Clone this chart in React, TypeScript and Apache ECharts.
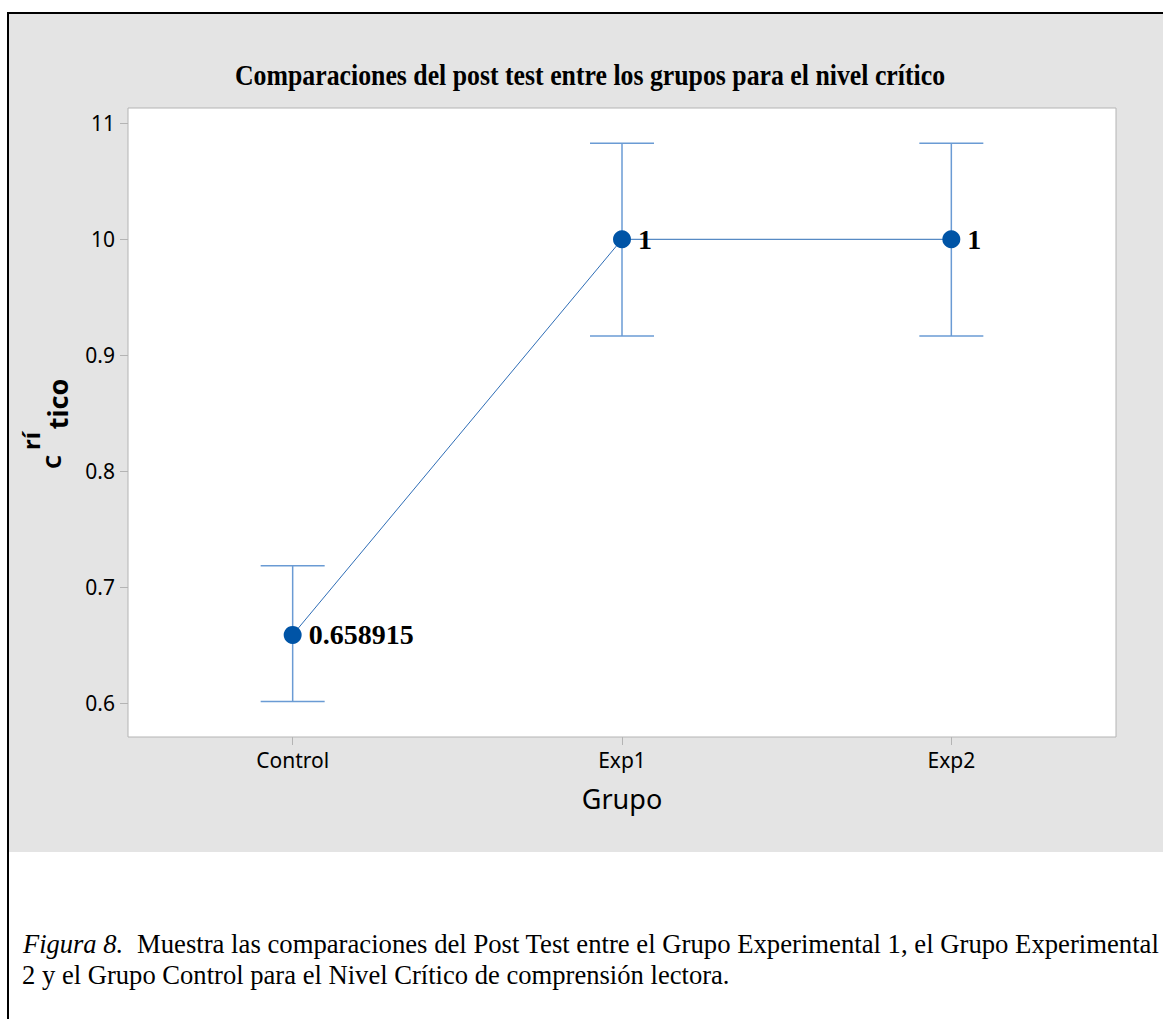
import React, { useEffect, useRef } from "react";
import * as echarts from "echarts";

const categories = ["Control", "Exp1", "Exp2"];
const means = [0.658915, 1, 1];
const lowerCI = [0.6015, 0.9166, 0.9166];
const upperCI = [0.7185, 1.0828, 1.0828];
const pointLabels = ["0.658915", "1", "1"];
const yTickValues = [0.6, 0.7, 0.8, 0.9, 1.0, 1.1];
const yTickLabels = ["0.6", "0.7", "0.8", "0.9", "10", "11"];
const titleText = "Comparaciones del post test entre los grupos para el nivel crítico";
const xAxisName = "Grupo";
const captionItalic = "Figura 8.";
const captionLine1 = "Muestra las comparaciones del Post Test entre el Grupo Experimental 1, el Grupo Experimental";
const captionLine2 = "2 y el Grupo Control para el Nivel Crítico de comprensión lectora.";

const W = 1163;
const H = 1019;

export default function App() {
  const ref = useRef<HTMLDivElement>(null);
  useEffect(() => {
    if (!ref.current) return;
    const chart = echarts.init(ref.current, null, { renderer: "svg" });
    const errData = categories.map((_, i) => [i, lowerCI[i], upperCI[i]]);
    const option: any = {
      animation: false,
      backgroundColor: "#ffffff",
      graphic: [
        { type: "rect", z: -10, shape: { x: 9, y: 14, width: W - 9, height: 852 - 14 }, style: { fill: "#e4e4e4" } },
        { type: "rect", z: -5, shape: { x: 7, y: 12, width: W - 7, height: 2 }, style: { fill: "#000" } },
        { type: "rect", z: -5, shape: { x: 7, y: 12, width: 2, height: H - 12 }, style: { fill: "#000" } },
        {
          type: "text",
          x: 590,
          y: 75,
          scaleX: 0.86,
          style: {
            text: titleText,
            font: "bold 30px 'Liberation Serif'",
            fill: "#000",
            align: "center",
            verticalAlign: "middle",
          },
        },
        {
          type: "text",
          x: 51.5,
          y: 462,
          rotation: Math.PI / 2,
          style: { text: "C", font: "bold 22px 'Noto Sans'", fill: "#000", align: "center", verticalAlign: "middle" },
        },
        {
          type: "text",
          x: 30,
          y: 441,
          rotation: Math.PI / 2,
          style: { text: "rí", font: "bold 24px 'Noto Sans'", fill: "#000", align: "center", verticalAlign: "middle" },
        },
        {
          type: "text",
          x: 57,
          y: 404,
          rotation: Math.PI / 2,
          style: { text: "tico", font: "bold 27px 'Noto Sans'", fill: "#000", align: "center", verticalAlign: "middle" },
        },
        {
          type: "text",
          x: 23,
          y: 944,
          style: { text: captionItalic, font: "italic 26.5px 'Liberation Serif'", fill: "#000", align: "left", verticalAlign: "middle" },
        },
        {
          type: "text",
          x: 137,
          y: 944,
          style: { text: captionLine1, font: "26.7px 'Liberation Serif'", fill: "#000", align: "left", verticalAlign: "middle" },
        },
        {
          type: "text",
          x: 22,
          y: 975,
          style: { text: captionLine2, font: "26.6px 'Liberation Serif'", fill: "#000", align: "left", verticalAlign: "middle" },
        },
      ],
      grid: {
        left: 128,
        right: W - 1116,
        top: 108,
        bottom: H - 737,
        show: true,
        backgroundColor: "#ffffff",
        borderColor: "#b4b4b4",
        borderWidth: 1,
        containLabel: false,
      },
      xAxis: {
        type: "category",
        data: categories,
        boundaryGap: true,
        name: xAxisName,
        nameLocation: "middle",
        nameGap: 48,
        nameTextStyle: { fontFamily: "Noto Sans", fontSize: 27, color: "#000" },
        axisLine: { show: false },
        axisTick: { show: true, alignWithLabel: true, length: 8, lineStyle: { color: "#b4b4b4" } },
        axisLabel: { fontFamily: "Noto Sans", fontSize: 21, color: "#000", margin: 12 },
        splitLine: { show: false },
      },
      yAxis: {
        type: "value",
        min: 0.5709,
        max: 1.1132,
        axisLine: { show: false },
        axisTick: { show: true, length: 8, lineStyle: { color: "#b4b4b4" }, customValues: yTickValues },
        axisLabel: {
          fontFamily: "Noto Sans",
          fontSize: 21,
          color: "#000",
          margin: 13,
          customValues: yTickValues,
          formatter: (v: number) => {
            const i = yTickValues.findIndex((t) => Math.abs(t - v) < 1e-6);
            return i >= 0 ? yTickLabels[i] : "";
          },
        },
        splitLine: { show: false },
      },
      series: [
        {
          type: "custom",
          z: 1,
          data: errData,
          renderItem: (params: any, api: any) => {
            const idx = api.value(0);
            const lo = api.coord([idx, api.value(1)]);
            const hi = api.coord([idx, api.value(2)]);
            const half = 32;
            const style = { stroke: "#6a9bd4", lineWidth: 1.5 };
            return {
              type: "group",
              children: [
                { type: "line", shape: { x1: hi[0], y1: hi[1], x2: lo[0], y2: lo[1] }, style },
                { type: "line", shape: { x1: hi[0] - half, y1: hi[1], x2: hi[0] + half, y2: hi[1] }, style },
                { type: "line", shape: { x1: lo[0] - half, y1: lo[1], x2: lo[0] + half, y2: lo[1] }, style },
              ],
            };
          },
        },
        {
          type: "line",
          z: 3,
          data: means,
          symbol: "circle",
          symbolSize: 18,
          itemStyle: { color: "#0054a6" },
          lineStyle: { color: "#2e6db6", width: 1 },
          label: {
            show: true,
            position: "right",
            distance: 7,
            formatter: (p: any) => pointLabels[p.dataIndex],
            fontFamily: "Liberation Serif",
            fontWeight: "bold",
            fontSize: 28,
            color: "#000",
          },
        },
      ],
    };
    chart.setOption(option);
    return () => chart.dispose();
  }, []);
  return <div ref={ref} style={{ position: "absolute", left: 0, top: 0, width: W, height: H }} />;
}
